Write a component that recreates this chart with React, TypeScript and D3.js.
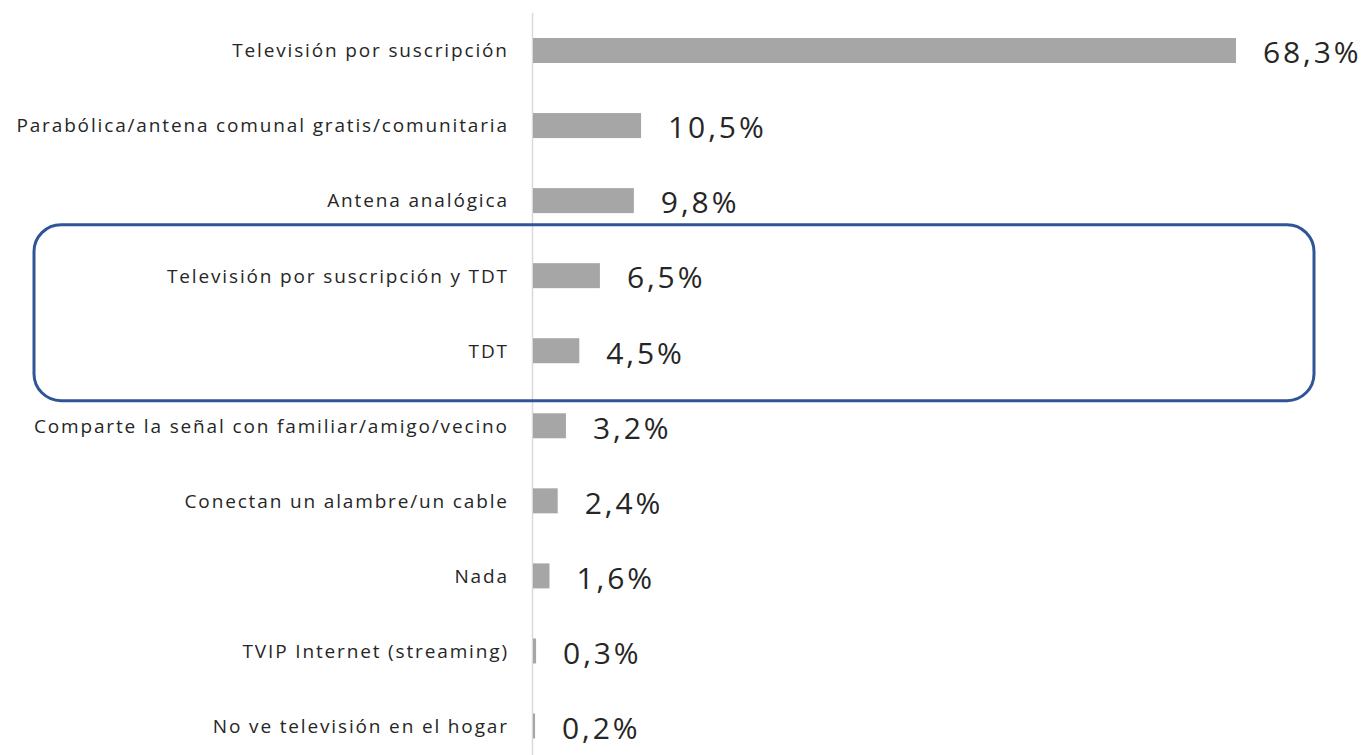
import React from "react";
import * as d3 from "d3";

const categories = [
  "Televisión por suscripción",
  "Parabólica/antena comunal gratis/comunitaria",
  "Antena analógica",
  "Televisión por suscripción y TDT",
  "TDT",
  "Comparte la señal con familiar/amigo/vecino",
  "Conectan un alambre/un cable",
  "Nada",
  "TVIP Internet (streaming)",
  "No ve televisión en el hogar",
];
const values = [68.3, 10.5, 9.8, 6.5, 4.5, 3.2, 2.4, 1.6, 0.3, 0.2];
const valueLabels = ["68,3%", "10,5%", "9,8%", "6,5%", "4,5%", "3,2%", "2,4%", "1,6%", "0,3%", "0,2%"];
const highlighted = ["Televisión por suscripción y TDT", "TDT"];

export default function App() {
  const W = 1364;
  const H = 755;
  const x = d3.scaleLinear().domain([0, 68.3]).range([533, 1236]);
  const y = d3.scalePoint<string>().domain(categories).range([50.5, 726]);
  const barH = 25;
  const hy = highlighted.map((c) => y(c) as number);
  const boxTop = Math.min(...hy) - 51;
  const boxBot = Math.max(...hy) + 50;
  const font = "'Open Sans', 'Noto Sans', sans-serif";
  const labelLs = 1.85;
  const valueLs = 2.9;
  return (
    <svg width={W} height={H} style={{ position: "absolute", left: 0, top: 0, background: "#fff" }}>
      <line x1={532.5} x2={532.5} y1={13} y2={H} stroke="#D9D9D9" strokeWidth={1.5} />
      {categories.map((c, i) => {
        const cy = y(c) as number;
        return (
          <g key={c}>
            <rect x={x(0)} y={cy - barH / 2} width={Math.max(0, x(values[i]) - x(0))} height={barH} fill="#A6A6A6" />
            <text x={507 + labelLs} y={cy} dy="0.36em" textAnchor="end" fontFamily={font} fontSize={19} letterSpacing={labelLs} fill="#262626">
              {c}
            </text>
            <text x={x(values[i]) + 27} y={cy + 2} dy="0.36em" textAnchor="start" fontFamily={font} fontSize={30} letterSpacing={valueLs} fill="#262626">
              {valueLabels[i]}
            </text>
          </g>
        );
      })}
      <rect x={34} y={boxTop} width={1314 - 34} height={boxBot - boxTop} rx={27} ry={27} fill="none" stroke="#2F5597" strokeWidth={3} />
    </svg>
  );
}
